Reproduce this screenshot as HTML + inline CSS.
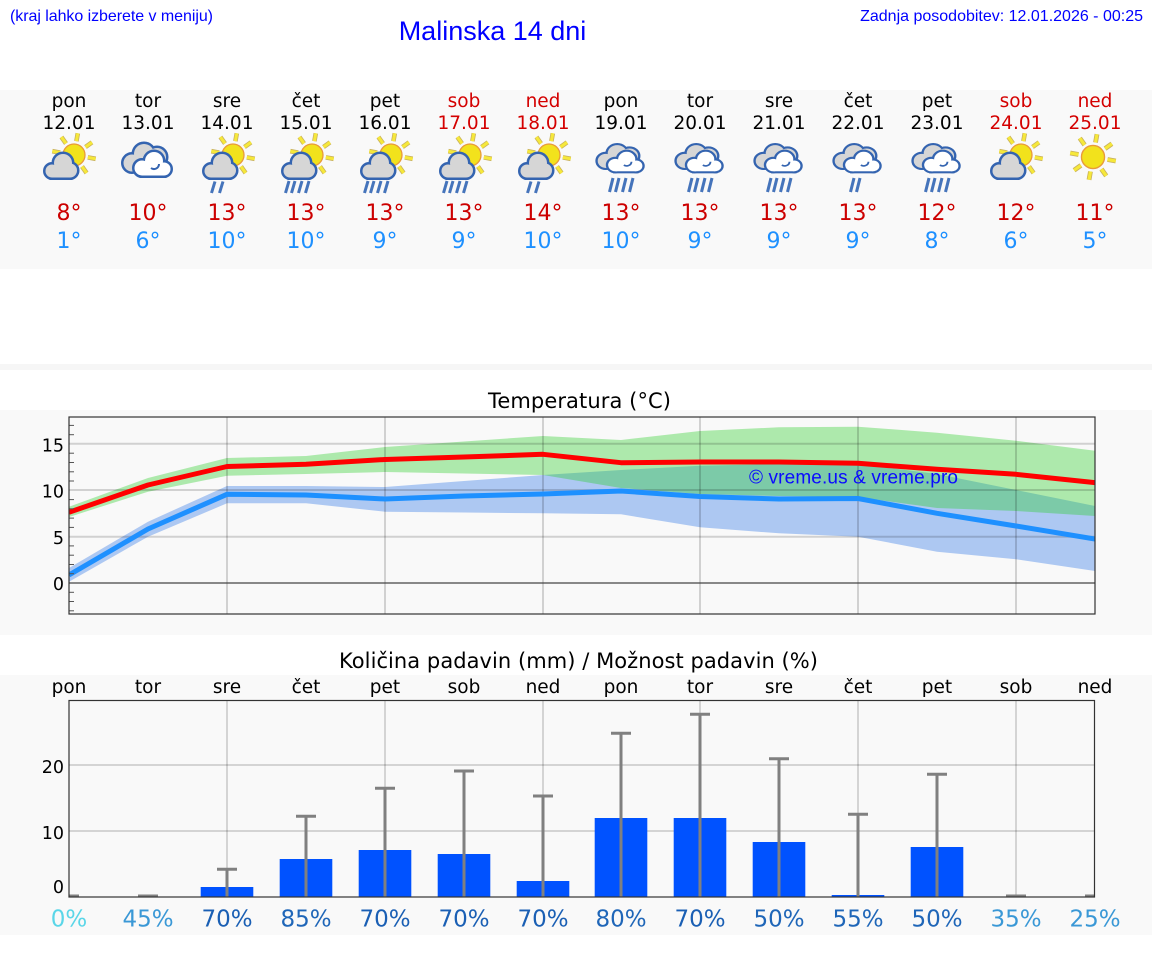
<!DOCTYPE html>
<html><head><meta charset="utf-8"><style>
html,body{margin:0;padding:0;background:#fff;}
svg{display:block;}
</style></head><body>
<svg width="1152" height="975" viewBox="0 0 1152 975" xmlns="http://www.w3.org/2000/svg" font-family="'DejaVu Sans', sans-serif">
<defs>
  <g id="sun">
    <g stroke="#c9b25e" stroke-width="4.6" stroke-linecap="butt">
      <line x1="13.8" y1="2.4" x2="21.7" y2="3.8"/><line x1="8" y1="11.5" x2="12.6" y2="18"/>
      <line x1="-2.4" y1="13.8" x2="-3.8" y2="21.7"/><line x1="-11.5" y1="8" x2="-18" y2="12.6"/>
      <line x1="-13.8" y1="-2.4" x2="-21.7" y2="-3.8"/><line x1="-8" y1="-11.5" x2="-12.6" y2="-18"/>
      <line x1="2.4" y1="-13.8" x2="3.8" y2="-21.7"/><line x1="11.5" y1="-8" x2="18" y2="-12.6"/>
    </g>
    <g stroke="#f6e83a" stroke-width="3">
      <line x1="13.8" y1="2.4" x2="21.7" y2="3.8"/><line x1="8" y1="11.5" x2="12.6" y2="18"/>
      <line x1="-2.4" y1="13.8" x2="-3.8" y2="21.7"/><line x1="-11.5" y1="8" x2="-18" y2="12.6"/>
      <line x1="-13.8" y1="-2.4" x2="-21.7" y2="-3.8"/><line x1="-8" y1="-11.5" x2="-12.6" y2="-18"/>
      <line x1="2.4" y1="-13.8" x2="3.8" y2="-21.7"/><line x1="11.5" y1="-8" x2="18" y2="-12.6"/>
    </g>
    <circle r="11" fill="#f2e21c" stroke="#e89a3a" stroke-width="1.3"/>
  </g>
  <g id="pcloud">
    <g fill="#3464b0" stroke="#3464b0" stroke-width="5">
      <circle cx="-17" cy="171" r="6.5"/><circle cx="-6" cy="163" r="9"/><circle cx="1" cy="170.5" r="7"/>
      <rect x="-17" y="166" width="18" height="11.5"/>
    </g>
    <g fill="#d6d6d6">
      <circle cx="-17" cy="171" r="6.5"/><circle cx="-6" cy="163" r="9"/><circle cx="1" cy="170.5" r="7"/>
      <rect x="-17" y="166" width="18" height="11.5"/>
    </g>
  </g>
  <g id="pc">
    <use href="#sun" x="5" y="155"/>
    <use href="#pcloud"/>
  </g>
  <g id="pcr">
    <use href="#sun" x="6" y="155"/>
    <use href="#pcloud" x="1"/>
  </g>
  <g id="cl">
    <g fill="#3464b0" stroke="#3464b0" stroke-width="5">
      <circle cx="-16" cy="163" r="8.5"/><circle cx="-4" cy="154" r="10"/><circle cx="9" cy="157" r="9"/>
      <rect x="-16" y="160" width="25" height="11"/>
    </g>
    <g fill="#d6d6d6">
      <circle cx="-16" cy="163" r="8.5"/><circle cx="-4" cy="154" r="10"/><circle cx="9" cy="157" r="9"/>
      <rect x="-16" y="160" width="25" height="11"/>
    </g>
    <g fill="#3464b0" stroke="#3464b0" stroke-width="5">
      <circle cx="-6" cy="168" r="7.5"/><circle cx="6" cy="161" r="9"/><circle cx="16" cy="169" r="6.5"/>
      <rect x="-6" y="167" width="22" height="8.5"/>
    </g>
    <g fill="#ffffff">
      <circle cx="-6" cy="168" r="7.5"/><circle cx="6" cy="161" r="9"/><circle cx="16" cy="169" r="6.5"/>
      <rect x="-6" y="167" width="22" height="8.5"/>
    </g>
    <path d="M3 168 a5 5 0 0 0 8 -4" fill="none" stroke="#3464b0" stroke-width="2"/>
  </g>
  <g id="clr">
    <use href="#cl" transform="matrix(0.95,0,0,0.83,0,25.6)"/>
  </g>
  <g id="d2p" stroke="#4574bb" stroke-width="3">
    <line x1="-12" y1="181.5" x2="-15.5" y2="193"/><line x1="-4" y1="181.5" x2="-7.5" y2="193"/>
  </g>
  <g id="d4p" stroke="#4574bb" stroke-width="3">
    <line x1="-17" y1="181" x2="-20.5" y2="193"/><line x1="-11" y1="181" x2="-14.5" y2="193"/>
    <line x1="-4" y1="181" x2="-7.5" y2="193"/><line x1="3" y1="181" x2="-0.5" y2="193"/>
  </g>
  <g id="d4c" stroke="#4574bb" stroke-width="3">
    <line x1="-8" y1="178" x2="-11.5" y2="192"/><line x1="-2" y1="178" x2="-5.5" y2="192"/>
    <line x1="5" y1="178" x2="1.5" y2="192"/><line x1="12" y1="178" x2="8.5" y2="192"/>
  </g>
  <g id="d2c" stroke="#4574bb" stroke-width="3">
    <line x1="-4" y1="178" x2="-7.5" y2="192"/><line x1="2" y1="178" x2="-1.5" y2="192"/>
  </g>
  <clipPath id="ct"><rect x="69" y="417" width="1026" height="197"/></clipPath>
  <clipPath id="cp"><rect x="69" y="700" width="1026" height="197.5"/></clipPath>
</defs>

<rect width="1152" height="975" fill="#ffffff"/>

<!-- top texts -->
<text x="10" y="21" font-family="'Liberation Sans', sans-serif" font-size="16" fill="#0000ff" textLength="203">(kraj lahko izberete v meniju)</text>
<text x="492.5" y="40" font-family="'Liberation Sans', sans-serif" font-size="27" fill="#0000ff" text-anchor="middle">Malinska 14 dni</text>
<text x="1143" y="21" font-family="'Liberation Sans', sans-serif" font-size="16" fill="#0000ff" text-anchor="end">Zadnja posodobitev: 12.01.2026 - 00:25</text>

<!-- header panel -->
<rect x="0" y="90" width="1152" height="179" fill="#f9f9f9"/>
<g font-size="18.5" text-anchor="middle" fill="#000">
  <text x="69" y="107">pon</text><text x="148" y="107">tor</text><text x="227" y="107">sre</text><text x="306" y="107">čet</text><text x="385" y="107">pet</text>
  <text x="464" y="107" fill="#d40000">sob</text><text x="543" y="107" fill="#d40000">ned</text>
  <text x="621" y="107">pon</text><text x="700" y="107">tor</text><text x="779" y="107">sre</text><text x="858" y="107">čet</text><text x="937" y="107">pet</text>
  <text x="1016" y="107" fill="#d40000">sob</text><text x="1095" y="107" fill="#d40000">ned</text>
  <text x="69" y="129">12.01</text><text x="148" y="129">13.01</text><text x="227" y="129">14.01</text><text x="306" y="129">15.01</text><text x="385" y="129">16.01</text>
  <text x="464" y="129" fill="#d40000">17.01</text><text x="543" y="129" fill="#d40000">18.01</text>
  <text x="621" y="129">19.01</text><text x="700" y="129">20.01</text><text x="779" y="129">21.01</text><text x="858" y="129">22.01</text><text x="937" y="129">23.01</text>
  <text x="1016" y="129" fill="#d40000">24.01</text><text x="1095" y="129" fill="#d40000">25.01</text>
</g>

<!-- icons -->
<use href="#pc" x="69"/>
<use href="#cl" x="148"/>
<use href="#pcr" x="227"/><use href="#d2p" x="227"/>
<use href="#pcr" x="306"/><use href="#d4p" x="306"/>
<use href="#pcr" x="385"/><use href="#d4p" x="385"/>
<use href="#pcr" x="464"/><use href="#d4p" x="464"/>
<use href="#pcr" x="543"/><use href="#d2p" x="543"/>
<use href="#clr" x="621"/><use href="#d4c" x="621"/>
<use href="#clr" x="700"/><use href="#d4c" x="700"/>
<use href="#clr" x="779"/><use href="#d4c" x="779"/>
<use href="#clr" x="858"/><use href="#d2c" x="858"/>
<use href="#clr" x="937"/><use href="#d4c" x="937"/>
<use href="#pc" x="1016"/>
<use href="#sun" transform="translate(1093,157) scale(1.05)"/>

<g font-size="22" text-anchor="middle">
  <g fill="#cc0000">
    <text x="69" y="220">8°</text><text x="148" y="220">10°</text><text x="227" y="220">13°</text><text x="306" y="220">13°</text><text x="385" y="220">13°</text><text x="464" y="220">13°</text><text x="543" y="220">14°</text>
    <text x="621" y="220">13°</text><text x="700" y="220">13°</text><text x="779" y="220">13°</text><text x="858" y="220">13°</text><text x="937" y="220">12°</text><text x="1016" y="220">12°</text><text x="1095" y="220">11°</text>
  </g>
  <g fill="#1e90ff">
    <text x="69" y="248">1°</text><text x="148" y="248">6°</text><text x="227" y="248">10°</text><text x="306" y="248">10°</text><text x="385" y="248">9°</text><text x="464" y="248">9°</text><text x="543" y="248">10°</text>
    <text x="621" y="248">10°</text><text x="700" y="248">9°</text><text x="779" y="248">9°</text><text x="858" y="248">9°</text><text x="937" y="248">8°</text><text x="1016" y="248">6°</text><text x="1095" y="248">5°</text>
  </g>
</g>

<rect x="0" y="364" width="1152" height="6" fill="#f6f6f6"/>

<!-- temperature panel -->
<rect x="0" y="410" width="1152" height="225" fill="#f9f9f9"/>
<text x="579.5" y="408" font-size="21" text-anchor="middle" fill="#000" textLength="183">Temperatura (°C)</text>
<g clip-path="url(#ct)">
  <polygon fill="#adc8f2" points="69,568 148,521.7 227,486 306,486 385,487 464,481 543,475 621,470 700,465.7 779,464 858,464 937,474 1016,490 1095,506 1095,571 1016,559.3 937,551.7 858,536.7 779,533.3 700,527.3 621,514.3 543,513.3 464,512.5 385,511.7 306,503.3 227,503.3 148,536.7 69,581.7"/>
  <polygon fill="rgb(38,204,35)" fill-opacity="0.36" points="69,506.7 148,478 227,458 306,456 385,447 464,441.5 543,436 621,440 700,431 779,427.3 858,426.7 937,432.7 1016,440.7 1095,450.7 1095,516 1016,511 937,508 858,497 779,496 700,494 621,488 543,475 464,473.5 385,472 306,474 227,475.7 148,491.7 69,517"/>
  <g stroke="#000" stroke-opacity="0.16" stroke-width="2">
    <line x1="69" y1="443.7" x2="1095" y2="443.7"/>
    <line x1="69" y1="490" x2="1095" y2="490"/>
    <line x1="69" y1="536.7" x2="1095" y2="536.7"/>
    <line x1="227" y1="417" x2="227" y2="614"/><line x1="385" y1="417" x2="385" y2="614"/>
    <line x1="543" y1="417" x2="543" y2="614"/><line x1="700" y1="417" x2="700" y2="614"/>
    <line x1="858" y1="417" x2="858" y2="614"/><line x1="1016" y1="417" x2="1016" y2="614"/>
  </g>
  <line x1="69" y1="583" x2="1095" y2="583" stroke="#444" stroke-width="1.2"/>
  <polyline fill="none" stroke="#1e90ff" stroke-width="5" stroke-linejoin="round" points="69,575 148,529 227,494.3 306,495 385,499 464,496 543,494 621,491 700,496.5 779,499 858,498.5 937,513.3 1016,526 1095,539"/>
  <polyline fill="none" stroke="#ff0000" stroke-width="5" stroke-linejoin="round" points="69,512.3 148,485 227,466.5 306,464.3 385,459.5 464,457 543,454.3 621,462.7 700,462 779,462 858,463.3 937,469.3 1016,474.3 1095,482.7"/>
  <text x="749" y="483.5" font-family="'Liberation Sans', sans-serif" font-size="19" fill="#0a0aff" textLength="209">© vreme.us &amp; vreme.pro</text>
</g>
<g stroke="#555" stroke-width="1">
  <line x1="69" y1="610.8" x2="74" y2="610.8"/><line x1="69" y1="601.5" x2="74" y2="601.5"/><line x1="69" y1="592.3" x2="74" y2="592.3"/>
  <line x1="69" y1="573.7" x2="74" y2="573.7"/><line x1="69" y1="564.5" x2="74" y2="564.5"/><line x1="69" y1="555.2" x2="74" y2="555.2"/><line x1="69" y1="545.9" x2="74" y2="545.9"/>
  <line x1="69" y1="527.4" x2="74" y2="527.4"/><line x1="69" y1="518.1" x2="74" y2="518.1"/><line x1="69" y1="508.8" x2="74" y2="508.8"/><line x1="69" y1="499.6" x2="74" y2="499.6"/>
  <line x1="69" y1="481" x2="74" y2="481"/><line x1="69" y1="471.8" x2="74" y2="471.8"/><line x1="69" y1="462.5" x2="74" y2="462.5"/><line x1="69" y1="453.2" x2="74" y2="453.2"/>
  <line x1="69" y1="434.7" x2="74" y2="434.7"/><line x1="69" y1="425.4" x2="74" y2="425.4"/>
</g>
<rect x="69" y="417" width="1026" height="197" fill="none" stroke="#333" stroke-width="1.2"/>
<g font-size="17.5" text-anchor="end" fill="#000">
  <text x="64" y="451.5">15</text><text x="64" y="497.5">10</text><text x="64" y="544">5</text><text x="64" y="590">0</text>
</g>

<!-- precipitation panel -->
<rect x="0" y="675" width="1152" height="260" fill="#f9f9f9"/>
<text x="578.5" y="668" font-size="21" text-anchor="middle" fill="#000" textLength="479">Količina padavin (mm) / Možnost padavin (%)</text>
<g font-size="18.5" text-anchor="middle" fill="#000">
  <text x="69" y="693">pon</text><text x="148" y="693">tor</text><text x="227" y="693">sre</text><text x="306" y="693">čet</text><text x="385" y="693">pet</text><text x="464" y="693">sob</text><text x="543" y="693">ned</text>
  <text x="621" y="693">pon</text><text x="700" y="693">tor</text><text x="779" y="693">sre</text><text x="858" y="693">čet</text><text x="937" y="693">pet</text><text x="1016" y="693">sob</text><text x="1095" y="693">ned</text>
</g>
<g clip-path="url(#cp)">
  <g stroke="#000" stroke-opacity="0.15" stroke-width="2">
    <line x1="69" y1="765" x2="1095" y2="765"/><line x1="69" y1="831" x2="1095" y2="831"/>
    <line x1="227" y1="700" x2="227" y2="897"/><line x1="385" y1="700" x2="385" y2="897"/>
    <line x1="543" y1="700" x2="543" y2="897"/><line x1="700" y1="700" x2="700" y2="897"/>
    <line x1="858" y1="700" x2="858" y2="897"/><line x1="1016" y1="700" x2="1016" y2="897"/>
  </g>
  <g fill="#0052ff">
    <rect x="200.7" y="887" width="52.6" height="10"/>
    <rect x="279.7" y="859" width="52.6" height="38"/>
    <rect x="358.7" y="850" width="52.6" height="47"/>
    <rect x="437.7" y="854" width="52.6" height="43"/>
    <rect x="516.7" y="881" width="52.6" height="16"/>
    <rect x="594.7" y="818" width="52.6" height="79"/>
    <rect x="673.7" y="818" width="52.6" height="79"/>
    <rect x="752.7" y="842" width="52.6" height="55"/>
    <rect x="831.7" y="895" width="52.6" height="2"/>
    <rect x="910.7" y="847" width="52.6" height="50"/>
  </g>
  <g stroke="#808080" stroke-width="3">
    <line x1="227" y1="897" x2="227" y2="869.3"/><line x1="217" y1="869.3" x2="237" y2="869.3"/>
    <line x1="306" y1="897" x2="306" y2="816.3"/><line x1="296" y1="816.3" x2="316" y2="816.3"/>
    <line x1="385" y1="897" x2="385" y2="788.3"/><line x1="375" y1="788.3" x2="395" y2="788.3"/>
    <line x1="464" y1="897" x2="464" y2="771"/><line x1="454" y1="771" x2="474" y2="771"/>
    <line x1="543" y1="897" x2="543" y2="796"/><line x1="533" y1="796" x2="553" y2="796"/>
    <line x1="621" y1="897" x2="621" y2="733.3"/><line x1="611" y1="733.3" x2="631" y2="733.3"/>
    <line x1="700" y1="897" x2="700" y2="714.3"/><line x1="690" y1="714.3" x2="710" y2="714.3"/>
    <line x1="779" y1="897" x2="779" y2="758.7"/><line x1="769" y1="758.7" x2="789" y2="758.7"/>
    <line x1="858" y1="897" x2="858" y2="814.3"/><line x1="848" y1="814.3" x2="868" y2="814.3"/>
    <line x1="937" y1="897" x2="937" y2="774.3"/><line x1="927" y1="774.3" x2="947" y2="774.3"/>
    <line x1="59" y1="896" x2="79" y2="896"/><line x1="138" y1="896" x2="158" y2="896"/>
    <line x1="1006" y1="896" x2="1026" y2="896"/><line x1="1085" y1="896" x2="1105" y2="896"/>
  </g>
</g>
<rect x="69" y="700.5" width="1025.5" height="196.5" fill="none" stroke="#333" stroke-width="1.2"/>
<g font-size="17.5" text-anchor="end" fill="#000">
  <text x="64" y="773">20</text><text x="64" y="839">10</text><text x="64" y="893">0</text>
</g>
<g font-size="23" text-anchor="middle">
  <text x="69" y="926.7" fill="#5ad6e8">0%</text>
  <text x="148" y="926.7" fill="#3a98d6">45%</text>
  <text x="227" y="926.7" fill="#1a5fb4">70%</text>
  <text x="306" y="926.7" fill="#1f66b8">85%</text>
  <text x="385" y="926.7" fill="#1a5fb4">70%</text>
  <text x="464" y="926.7" fill="#1a5fb4">70%</text>
  <text x="543" y="926.7" fill="#1a5fb4">70%</text>
  <text x="621" y="926.7" fill="#1f66b8">80%</text>
  <text x="700" y="926.7" fill="#1a5fb4">70%</text>
  <text x="779" y="926.7" fill="#1f66b8">50%</text>
  <text x="858" y="926.7" fill="#1f66b8">55%</text>
  <text x="937" y="926.7" fill="#1f66b8">50%</text>
  <text x="1016" y="926.7" fill="#3a98d6">35%</text>
  <text x="1095" y="926.7" fill="#3a98d6">25%</text>
</g>
</svg>
</body></html>
